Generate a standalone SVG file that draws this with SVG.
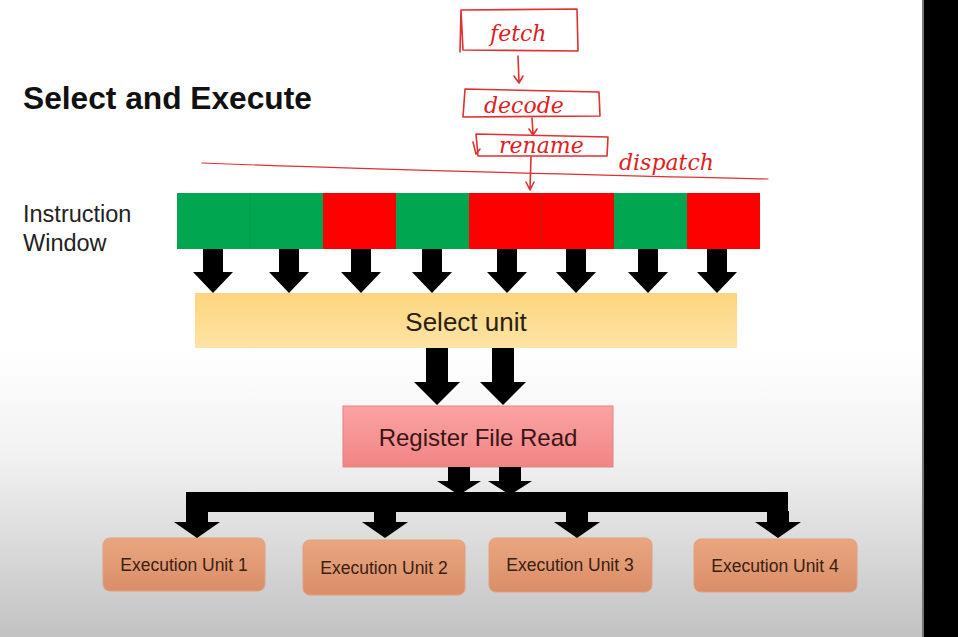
<svg xmlns="http://www.w3.org/2000/svg" width="958" height="637" viewBox="0 0 958 637">
<style>
.title{font-family:"Liberation Sans",Arial,sans-serif;font-weight:bold;font-size:31.7px;fill:#111}
.lbl{font-family:"Liberation Sans",Arial,sans-serif;font-size:23.5px;fill:#222}
.sel{font-family:"Liberation Sans",Arial,sans-serif;font-size:26px;fill:#2a2010}
.rfr{font-family:"Liberation Sans",Arial,sans-serif;font-size:24px;fill:#3a1515}
.eu{font-family:"Liberation Sans",Arial,sans-serif;font-size:17.5px;fill:#3a2010}
.hand{font-family:"DejaVu Serif",serif;font-style:italic;font-size:22px;fill:#e02020}
.ink{fill:none;stroke:#e03030;stroke-width:1.6;stroke-linecap:round;stroke-linejoin:round}
.g{fill:#00a650}
.r{fill:#ff0000}
.arr{fill:#000}
.eubox{fill:url(#euG);stroke:#e2a07c;stroke-width:1}
</style>
<defs>
<linearGradient id="bg" x1="0" y1="0" x2="0" y2="1">
<stop offset="0" stop-color="#ffffff"/>
<stop offset="0.55" stop-color="#ffffff"/>
<stop offset="0.72" stop-color="#f1f1f1"/>
<stop offset="1" stop-color="#c2c2c2"/>
</linearGradient>
<linearGradient id="selG" x1="0" y1="0" x2="0" y2="1">
<stop offset="0" stop-color="#fcd57e"/>
<stop offset="1" stop-color="#fde4a6"/>
</linearGradient>
<linearGradient id="rfrG" x1="0" y1="0" x2="0" y2="1">
<stop offset="0" stop-color="#fba3a3"/>
<stop offset="1" stop-color="#f18484"/>
</linearGradient>
<linearGradient id="euG" x1="0" y1="0" x2="0" y2="1">
<stop offset="0" stop-color="#e9a680"/>
<stop offset="1" stop-color="#d98e68"/>
</linearGradient>
<path id="a1" d="M-10,0 H10 V23 H20 L0,44 L-20,23 H-10 Z"/>
<path id="a2" d="M-11,0 H11 V34 H23 L0,57 L-23,34 H-11 Z"/>
<path id="a3" d="M-11,0 H11 V14 H22 L0,28 L-22,14 H-11 Z"/>
<path id="a4" d="M-11,0 H11 V11 H23 L0,27 L-23,11 H-11 Z"/>
</defs>
<rect x="0" y="0" width="958" height="637" fill="url(#bg)"/>
<rect x="924" y="0" width="34" height="637" fill="#000"/>
<rect x="922" y="0" width="2" height="637" fill="#777"/>

<text class="title" x="23" y="109">Select and Execute</text>

<g id="instruction-window-label">
<text class="lbl" x="23" y="222">Instruction</text>
<text class="lbl" x="23" y="251">Window</text>
</g>

<g id="handwriting">
<path class="ink" d="M461,10 L577,9 L578,51 L463,50 Z M461,10 L460,52"/>
<text class="hand" x="490" y="41" font-size="23">fetch</text>
<path class="ink" d="M518,56 L519,82 M514,76 L519,83 L523,76"/>
<path class="ink" d="M465,89 L599,92 L600,116 L463,117 Z"/>
<text class="hand" x="484" y="113" font-size="21">decode</text>
<path class="ink" d="M532,118 L533,134 M529,129 L533,135 L537,129"/>
<path class="ink" d="M476,134 L608,137 L607,156 L478,156 Z"/>
<text class="hand" x="499" y="153" font-size="18">rename</text>
<path class="ink" d="M473,142 L476,154 L480,149"/>
<path class="ink" d="M531,157 L530,189 M526,182 L530,190 L534,182"/>
<text class="hand" x="619" y="170" font-size="29">dispatch</text>
<path class="ink" d="M202,163 C380,170 600,175 768,179" style="stroke-width:1.2"/>
</g>

<g id="instruction-window">
<rect class="g" x="177" y="193" width="73.5" height="56"/>
<rect class="g" x="250" y="193" width="73.5" height="56"/>
<rect class="r" x="323" y="193" width="73.5" height="56"/>
<rect class="g" x="396" y="193" width="73.5" height="56"/>
<rect class="r" x="469" y="193" width="72.5" height="56"/>
<rect class="r" x="541" y="193" width="73.5" height="56"/>
<rect class="g" x="614" y="193" width="73" height="56"/>
<rect class="r" x="687" y="193" width="73" height="56"/>
<path d="M250,193 V249 M541,193 V249" stroke="#0b7a3a" stroke-width="0.6" opacity="0.5"/>
</g>

<g id="select-unit">
<rect x="195" y="293" width="542" height="55" fill="url(#selG)"/>
<text class="sel" x="466" y="331" text-anchor="middle">Select unit</text>
</g>

<g id="register-file-read">
<rect x="343" y="406" width="270" height="61" fill="url(#rfrG)" stroke="#e88080" stroke-width="1"/>
<text class="rfr" x="478" y="446" text-anchor="middle">Register File Read</text>
</g>

<g id="eu1"><rect class="eubox" x="103" y="538" width="162" height="53" rx="7"/><text class="eu" x="184" y="571" text-anchor="middle">Execution Unit 1</text></g>
<g id="eu2"><rect class="eubox" x="303" y="540" width="162" height="55" rx="7"/><text class="eu" x="384" y="574" text-anchor="middle">Execution Unit 2</text></g>
<g id="eu3"><rect class="eubox" x="489" y="538" width="163" height="54" rx="7"/><text class="eu" x="570" y="571" text-anchor="middle">Execution Unit 3</text></g>
<g id="eu4"><rect class="eubox" x="694" y="539" width="163" height="53" rx="7"/><text class="eu" x="775" y="572" text-anchor="middle">Execution Unit 4</text></g>

<g id="connectors" class="arr">
<use href="#a1" x="213" y="249"/>
<use href="#a1" x="289" y="249"/>
<use href="#a1" x="361" y="249"/>
<use href="#a1" x="432" y="249"/>
<use href="#a1" x="507" y="249"/>
<use href="#a1" x="576" y="249"/>
<use href="#a1" x="648" y="249"/>
<use href="#a1" x="717" y="249"/>
<use href="#a2" x="437" y="348"/>
<use href="#a2" x="503" y="348"/>
<use href="#a3" x="459" y="467"/>
<use href="#a3" x="510" y="467"/>
<rect x="186" y="492" width="602" height="20"/>
<use href="#a4" x="197" y="511"/>
<use href="#a4" x="385" y="511"/>
<use href="#a4" x="577" y="511"/>
<use href="#a4" x="778" y="511"/>
</g>
</svg>
